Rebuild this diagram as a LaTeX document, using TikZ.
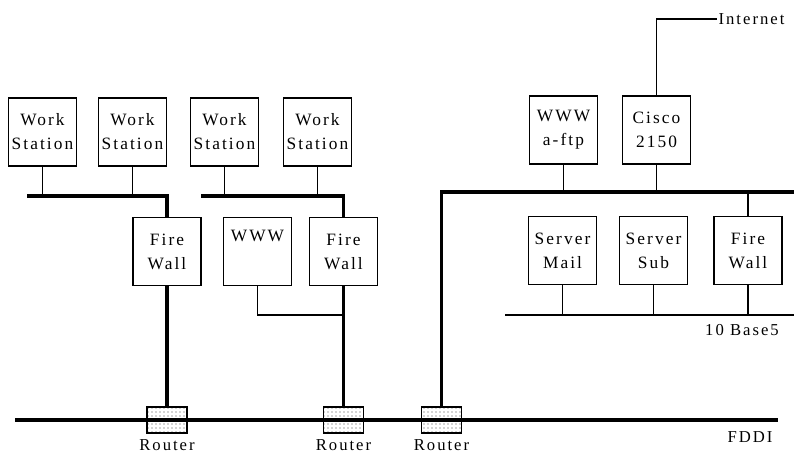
\documentclass[tikz,border=0pt]{standalone}
\usepackage{fontspec}
\setmainfont{Liberation Serif}[LetterSpace=12]
\usetikzlibrary{positioning, patterns}

\begin{document}
\begin{tikzpicture}[
                x=0.75pt, y=-0.75pt,
                box/.style ={draw, line width=1.1pt, minimum width=51pt,
                        minimum height=51pt, inner sep=0pt, align=center,
                        font=\fontsize{13}{18}\selectfont},
                rtr/.style ={draw, line width=1.1pt, minimum width=30pt,
                        minimum height=19.5pt, inner sep=0pt,
                        pattern=dots, pattern color=black!75},
                lan/.style ={line width=2.6pt},
                tap/.style ={line width=0.8pt},
                lbl/.style ={font=\fontsize{12.5}{14}\selectfont}
            ]
            \useasboundingbox (0,0) rectangle (794,456);

            %% ---- LEFT: two work-station segments behind fire walls ----------
            \node[box] (ws1) at (42.5,132) {Work\\Station};
            \node[box] (ws2) at (132.5,132) {Work\\Station};
            \node[box] (ws3) at (224.5,132) {Work\\Station};
            \node[box] (ws4) at (317.5,132) {Work\\Station};
            \node[box] (fw1) at (167,251.5) {Fire\\Wall};
            \node[box] (www) at (257.5,251.5) {WWW\\\strut};
            \node[box] (fw2) at (343.5,251.5) {Fire\\Wall};

            \coordinate (bus1) at (27,196);
            \coordinate (bus2) at (201,196);
            \draw[lan] (bus1) -- (bus1 -| fw1) -- (fw1.north);
            \draw[lan] (bus2) -- (bus2 -| fw2) -- (fw2.north);
            \draw[tap] (ws1.south) -- (ws1.south |- bus1);
            \draw[tap] (ws2.south) -- (ws2.south |- bus1);
            \draw[tap] (ws3.south) -- (ws3.south |- bus2);
            \draw[tap] (ws4.south) -- (ws4.south |- bus2);
            \draw[tap] (www.south) |- (fw2.south |- 0,315);

            %% ---- RIGHT: server segment, Cisco to the Internet ----------------
            \node[box] (ftp)   at (563.5,130) {WWW\\a-ftp};
            \node[box] (cisco) at (656.5,130) {Cisco\\2150};
            \node[box] (mail)  at (562.5,250.5) {Server\\Mail};
            \node[box] (sub)   at (653.5,250.5) {Server\\Sub};
            \node[box] (fw3)   at (748,250.5) {Fire\\Wall};

            \coordinate (inet) at (717,19);
            \node[lbl, anchor=west, inner sep=1pt] (inetlbl) at (inet) {Internet};
            \draw[tap] (cisco.north) |- (inet);

            \coordinate (rbus) at (794,192);
            \draw[tap] (ftp.south) -- (ftp.south |- rbus);
            \draw[tap] (cisco.south) -- (cisco.south |- rbus);
            \draw[tap] (fw3.north) -- (fw3.north |- rbus);

            \coordinate (tbl) at (505,315);
            \coordinate (tbr) at (794,315);
            \draw[lan, line width=2.2pt] (tbl) -- (tbr);
            \draw[tap] (mail.south) -- (mail.south |- tbl);
            \draw[tap] (sub.south) -- (sub.south |- tbl);
            \draw[tap] (fw3.south) -- (fw3.south |- tbl);
            \node[lbl] (tblbl) at (742,330) {10 Base5};

            %% ---- BOTTOM: FDDI ring with three routers ------------------------
            \node[rtr] (r1) at (167,420) {};
            \node[rtr] (r2) at (343.5,420) {};
            \node[rtr] (r3) at (441.5,420) {};
            \coordinate (fl) at (15,420);
            \coordinate (fr) at (778,420);
            \draw[lan] (fl) -- (fr);
            \node[lbl, below=1pt of r1] (r1lbl) {Router};
            \node[lbl, below=1pt of r2] (r2lbl) {Router};
            \node[lbl, below=1pt of r3] (r3lbl) {Router};
            \node[lbl] (fddi) at (750,437) {FDDI};

            \draw[lan] (fw1.south) -- (r1.north);
            \draw[lan] (fw2.south) -- (r2.north);
            \draw[lan] (r3.north) -- (r3.north |- rbus) -- (rbus);

        \end{tikzpicture}
\end{document}
